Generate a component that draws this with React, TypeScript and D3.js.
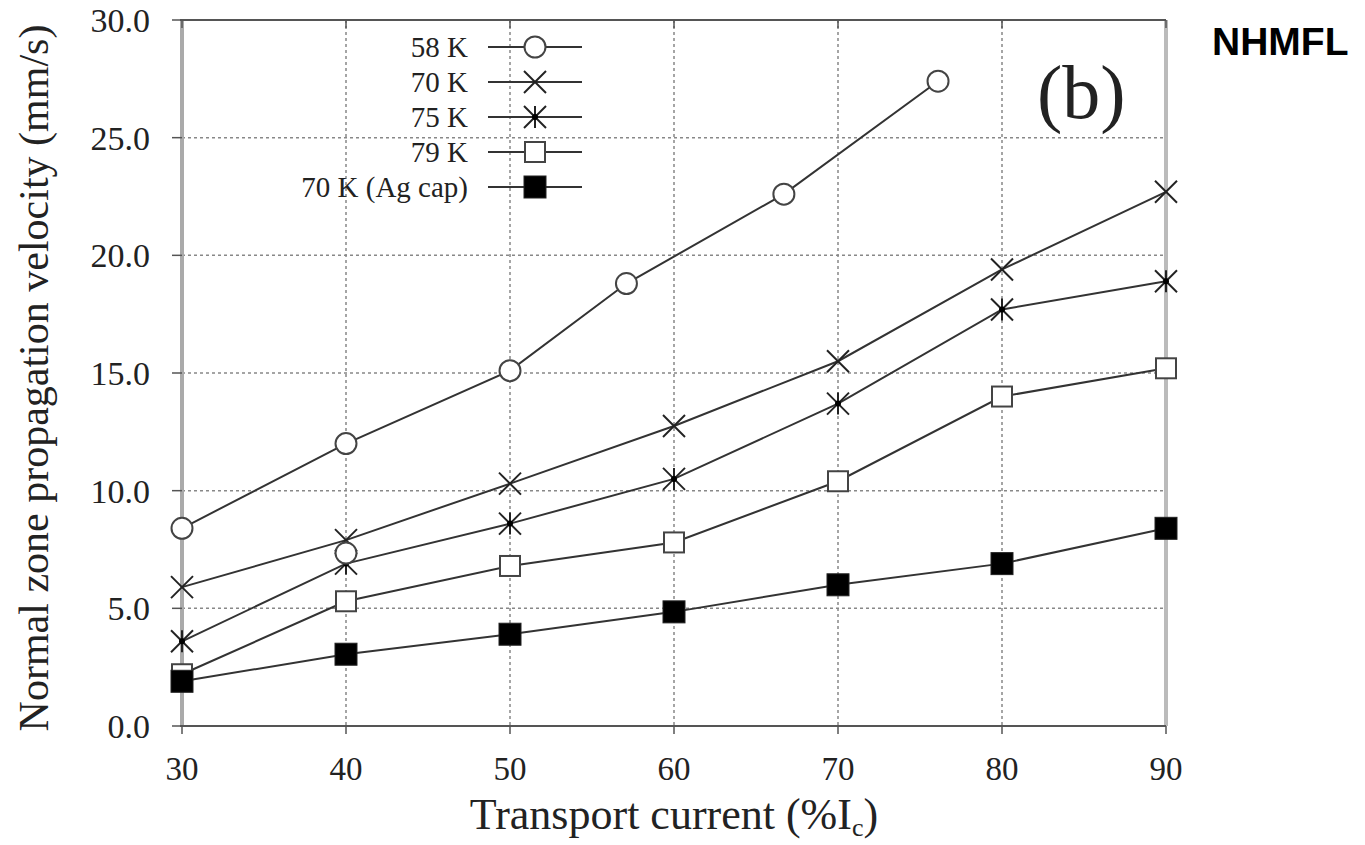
import React from 'react';
import { scaleLinear, line } from 'd3';

// transport current (%Ic) for each series
const xs58 = [30, 40, 50, 57.1, 66.7, 76.1];
const v58 = [8.4, 12.0, 15.1, 18.8, 22.6, 27.4];
// stray 58 K point with no line through it
const xs58extra = [40];
const v58extra = [7.35];

const xsStd = [30, 40, 50, 60, 70, 80, 90];
const v70 = [5.9, 7.9, 10.3, 12.75, 15.5, 19.4, 22.7];
const v75 = [3.6, 6.9, 8.6, 10.5, 13.7, 17.7, 18.9];
const v79 = [2.2, 5.3, 6.8, 7.8, 10.4, 14.0, 15.2];
const vAg = [1.9, 3.05, 3.9, 4.85, 6.0, 6.9, 8.4];

const xTicks = [30, 40, 50, 60, 70, 80, 90];
const yTicks = [0, 5, 10, 15, 20, 25, 30];

const legendLabels = ['58 K', '70 K', '75 K', '79 K', '70 K (Ag cap)'];
const markerKinds = ['circle', 'x', 'star', 'square', 'filled'];

const W = 1365, H = 845;
const margin = { top: 20, right: 199, bottom: 119, left: 182 };
const innerW = W - margin.left - margin.right;
const innerH = H - margin.top - margin.bottom;

const xScale = scaleLinear().domain([30, 90]).range([0, innerW]);
const yScale = scaleLinear().domain([0, 30]).range([innerH, 0]);

const serif = '"Liberation Serif", "DejaVu Serif", serif';
const ink = '#333';

const Marker = ({ kind, x, y }: { kind: string; x: number; y: number }) => {
  if (kind === 'circle') return <circle cx={x} cy={y} r={10.5} fill="white" stroke="#444" strokeWidth={2} />;
  if (kind === 'square') return <rect x={x - 10} y={y - 10} width={20} height={20} fill="white" stroke="#444" strokeWidth={2} />;
  if (kind === 'filled') return <rect x={x - 11} y={y - 11} width={22} height={22} fill="#000" stroke="#222" strokeWidth={1} />;
  const s = 11;
  return (
    <g stroke="#222" strokeWidth={2}>
      <line x1={x - s} y1={y - s} x2={x + s} y2={y + s} />
      <line x1={x - s} y1={y + s} x2={x + s} y2={y - s} />
      {kind === 'star' && <line x1={x} y1={y - s} x2={x} y2={y + s} />}
      {kind === 'star' && <circle cx={x} cy={y} r={3} fill="#000" stroke="none" />}
    </g>
  );
};

const Series = ({ xsv, vals, kind }: { xsv: number[]; vals: number[]; kind: string }) => {
  const pts = xsv.map((d, i) => [xScale(d), yScale(vals[i])] as [number, number]);
  return (
    <g>
      <path d={line()(pts) || ''} fill="none" stroke={ink} strokeWidth={2} />
      {pts.map((p, i) => <Marker key={i} kind={kind} x={p[0]} y={p[1]} />)}
    </g>
  );
};

export default function App() {
  const series = [
    { xsv: xs58, vals: v58 },
    { xsv: xsStd, vals: v70 },
    { xsv: xsStd, vals: v75 },
    { xsv: xsStd, vals: v79 },
    { xsv: xsStd, vals: vAg },
  ];
  return (
    <svg width={W} height={H} style={{ position: 'absolute', left: 0, top: 0, background: 'white' }}>
      <g transform={`translate(${margin.left},${margin.top})`}>
        {/* grid */}
        {xTicks.slice(1, -1).map(t => (
          <line key={'gx' + t} x1={xScale(t)} x2={xScale(t)} y1={0} y2={innerH} stroke="#888" strokeWidth={1.5} strokeDasharray="3,3" />
        ))}
        {yTicks.slice(1, -1).map(t => (
          <line key={'gy' + t} x1={0} x2={innerW} y1={yScale(t)} y2={yScale(t)} stroke="#888" strokeWidth={1.5} strokeDasharray="3,3" />
        ))}
        {/* frame */}
        <line x1={0} x2={0} y1={0} y2={innerH} stroke="#aaa" strokeWidth={4} />
        <line x1={innerW} x2={innerW} y1={0} y2={innerH} stroke="#bbb" strokeWidth={4} />
        <line x1={-2} x2={innerW} y1={0} y2={0} stroke="#555" strokeWidth={2} />
        <line x1={-2} x2={innerW} y1={innerH} y2={innerH} stroke="#555" strokeWidth={2} />
        {/* y ticks */}
        {yTicks.map(t => (
          <g key={'yt' + t} transform={`translate(0,${yScale(t)})`}>
            <line x1={-10} x2={0} stroke="#555" strokeWidth={1.5} />
            <text x={-32} y={12} textAnchor="end" fontFamily={serif} fontSize={34} fill="#222">{t.toFixed(1)}</text>
          </g>
        ))}
        {/* x ticks */}
        {xTicks.map(t => (
          <g key={'xt' + t} transform={`translate(${xScale(t)},${innerH})`}>
            <line y1={0} y2={8} stroke="#555" strokeWidth={1.5} />
            <line y1={-innerH} y2={-innerH + 8} stroke="#555" strokeWidth={1.5} />
            <text y={54} textAnchor="middle" fontFamily={serif} fontSize={33} fill="#222">{t}</text>
          </g>
        ))}
        {/* series */}
        {series.map((s, i) => <Series key={i} xsv={s.xsv} vals={s.vals} kind={markerKinds[i]} />)}
        {xs58extra.map((d, i) => <Marker key={'e' + i} kind="circle" x={xScale(d)} y={yScale(v58extra[i])} />)}
        {/* legend */}
        {legendLabels.map((lab, i) => (
          <g key={lab} transform={`translate(0,${27 + i * 35})`}>
            <text x={286} y={10} textAnchor="end" fontFamily={serif} fontSize={29} fill="#222">{lab}</text>
            <line x1={306} x2={400} stroke={ink} strokeWidth={2} />
            <Marker kind={markerKinds[i]} x={353} y={0} />
          </g>
        ))}
        <text x={855} y={98} fontFamily={serif} fontSize={76} fill="#222">(b)</text>
      </g>
      <text transform={`translate(48,${margin.top + innerH / 2 + 5}) rotate(-90)`} textAnchor="middle" fontFamily={serif} fontSize={42} fill="#222">
        Normal zone propagation velocity (mm/s)
      </text>
      <text x={674} y={829} textAnchor="middle" fontFamily={serif} fontSize={44} fill="#222">
        Transport current (%I<tspan dy={7} fontSize={26}>c</tspan><tspan dy={-7}>)</tspan>
      </text>
      <text x={1212} y={55} fontFamily={'"Liberation Sans", Arial, sans-serif'} fontWeight="bold" fontSize={39} fill="#000">NHMFL</text>
    </svg>
  );
}
